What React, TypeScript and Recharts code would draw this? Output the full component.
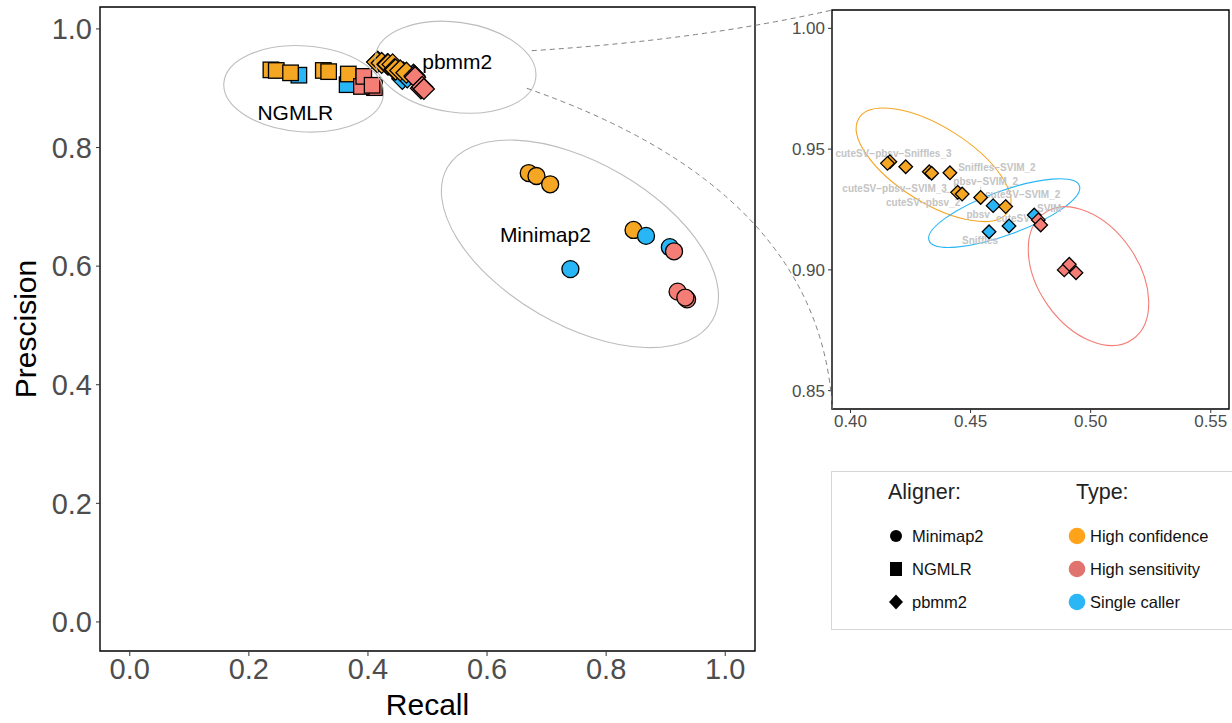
import React from 'react';
import { ScatterChart, Scatter, XAxis, YAxis, ReferenceDot, ReferenceArea } from 'recharts';

// Recall / Precision per aligner and caller type
const minimap2Confidence = [
  { recall: 0.670, precision: 0.757 },
  { recall: 0.683, precision: 0.752 },
  { recall: 0.706, precision: 0.738 },
  { recall: 0.846, precision: 0.661 },
];
const minimap2Single = [
  { recall: 0.867, precision: 0.651 },
  { recall: 0.907, precision: 0.632 },
  { recall: 0.740, precision: 0.595 },
];
const minimap2Sensitivity = [
  { recall: 0.914, precision: 0.625 },
  { recall: 0.920, precision: 0.557 },
  { recall: 0.936, precision: 0.544 },
  { recall: 0.933, precision: 0.547 },
];

const ngmlrSingle = [
  { recall: 0.284, precision: 0.922 },
  { recall: 0.365, precision: 0.906 },
];
const ngmlrConfidence = [
  { recall: 0.237, precision: 0.931 },
  { recall: 0.246, precision: 0.930 },
  { recall: 0.270, precision: 0.926 },
  { recall: 0.325, precision: 0.930 },
  { recall: 0.334, precision: 0.928 },
  { recall: 0.367, precision: 0.924 },
];
const ngmlrSensitivity = [
  { recall: 0.411, precision: 0.901 },
  { recall: 0.389, precision: 0.903 },
  { recall: 0.393, precision: 0.920 },
  { recall: 0.407, precision: 0.905 },
];

const pbmm2Single = [
  { recall: 0.4594, precision: 0.9266, caller: 'pbsv' },
  { recall: 0.4577, precision: 0.9158, caller: 'Sniffles' },
  { recall: 0.4660, precision: 0.9182, caller: 'cuteSV' },
  { recall: 0.4765, precision: 0.9227, caller: 'SVIM' },
];
const pbmm2Confidence = [
  { recall: 0.4164, precision: 0.9448, caller: '' },
  { recall: 0.4154, precision: 0.9441, caller: 'cuteSV−pbsv−Sniffles_3' },
  { recall: 0.4230, precision: 0.9427, caller: '' },
  { recall: 0.4328, precision: 0.9406, caller: '' },
  { recall: 0.4338, precision: 0.9400, caller: '' },
  { recall: 0.4414, precision: 0.9402, caller: 'Sniffles−SVIM_2' },
  { recall: 0.4446, precision: 0.9321, caller: 'cuteSV−pbsv−SVIM_3' },
  { recall: 0.4465, precision: 0.9314, caller: 'cuteSV−pbsv_2' },
  { recall: 0.4542, precision: 0.9300, caller: 'pbsv−SVIM_2' },
  { recall: 0.4646, precision: 0.9262, caller: 'cuteSV−SVIM_2' },
];
const pbmm2Sensitivity = [
  { recall: 0.4782, precision: 0.9207 },
  { recall: 0.4792, precision: 0.9186 },
  { recall: 0.4890, precision: 0.9000 },
  { recall: 0.4911, precision: 0.9023 },
  { recall: 0.4939, precision: 0.8988 },
];

const mainTicks = [0, 0.2, 0.4, 0.6, 0.8, 1.0];
const zoomXTicks = [0.40, 0.45, 0.50, 0.55];
const zoomYTicks = [0.85, 0.90, 0.95, 1.00];

const alignerGroups = [
  { name: 'Minimap2', x: 0.698, y: 0.653 },
  { name: 'NGMLR', x: 0.278, y: 0.859 },
  { name: 'pbmm2', x: 0.550, y: 0.945 },
];

// ellipse centres (data units); radii/angles are drawing styles in px
const mainEllipses = [
  { x: 0.292, y: 0.899, rx: 80, ry: 43, angle: 4 },
  { x: 0.547, y: 0.9355, rx: 81, ry: 45, angle: 8 },
  { x: 0.756, y: 0.6376, rx: 153, ry: 81, angle: 30 },
];
const zoomEllipses = [
  { x: 0.4346, y: 0.9435, rx: 88, ry: 38, angle: 32, color: '#F5A623' },
  { x: 0.4640, y: 0.9235, rx: 80, ry: 22, angle: -20, color: '#29B6F6' },
  { x: 0.4991, y: 0.8974, rx: 77, ry: 50, angle: 55, color: '#F47E75' },
];

const labelOffsets: Record<string, [number, number]> = {
  'cuteSV−pbsv−Sniffles_3': [6, -10],
  'Sniffles−SVIM_2': [47, -5],
  'pbsv−SVIM_2': [5, -15.5],
  'cuteSV−pbsv−SVIM_3': [-63, -3.6],
  'cuteSV−SVIM_2': [17, -12.4],
  'cuteSV−pbsv_2': [-39, 8.3],
  SVIM: [15, -6.7],
  pbsv: [-15, 9.3],
  cuteSV: [4, -7.7],
  Sniffles: [-9, 8.3],
};

const ORANGE = '#F5A623';
const RED = '#F47E75';
const BLUE = '#29B6F6';
const FONT = '"Liberation Sans", Arial, Helvetica, sans-serif';

const mainX: [number, number] = [-0.05, 1.05];
const mainY: [number, number] = [-0.049, 1.037];
const zoomX: [number, number] = [0.3923, 0.5576];
const zoomY: [number, number] = [0.8424, 1.0076];

const circle = (fill: string, r: number) => (p: any) => (
  <circle cx={p.cx} cy={p.cy} r={r} fill={fill} stroke="#000" strokeWidth={1.3} />
);
const square = (fill: string, s: number) => (p: any) => (
  <rect x={p.cx - s / 2} y={p.cy - s / 2} width={s} height={s} fill={fill} stroke="#000" strokeWidth={1.3} />
);
const diamond = (fill: string, h: number) => (p: any) => (
  <path
    d={`M${p.cx},${p.cy - h}L${p.cx + h},${p.cy}L${p.cx},${p.cy + h}L${p.cx - h},${p.cy}Z`}
    fill={fill}
    stroke="#000"
    strokeWidth={1.3}
  />
);

const ellipseShape = (e: any, color: string) => (p: any) => (
  <ellipse
    cx={p.cx}
    cy={p.cy}
    rx={e.rx}
    ry={e.ry}
    fill="none"
    stroke={color}
    strokeWidth={1.1}
    transform={`rotate(${e.angle} ${p.cx} ${p.cy})`}
  />
);

const labelShape = (p: any) => {
  const name = p.payload?.caller;
  const off = name ? labelOffsets[name] : null;
  if (!off) return <g />;
  const tx = p.cx + off[0];
  const ty = p.cy + off[1];
  const w = name.length * 5.4;
  const h = 9;
  const nx = Math.max(tx - w / 2, Math.min(p.cx, tx + w / 2));
  const ny = Math.max(ty - h / 2, Math.min(p.cy, ty + h / 2));
  const d = Math.hypot(nx - p.cx, ny - p.cy);
  return (
    <g>
      {d > 7 && <line x1={p.cx} y1={p.cy} x2={nx} y2={ny} stroke="#c4c4c4" strokeWidth={0.8} />}
      <text x={tx} y={ty} textAnchor="middle" dominantBaseline="central" fontSize={10} fontWeight="bold" fill="#c4c4c4">
        {name}
      </text>
    </g>
  );
};

const labelled = [...pbmm2Confidence, ...pbmm2Single].filter((d) => d.caller);

function MainPanel() {
  return (
    <ScatterChart width={770} height={723} margin={{ top: 7, right: 15, bottom: 22, left: 10 }}>
      <XAxis
        type="number"
        dataKey="recall"
        domain={mainX}
        allowDataOverflow
        ticks={mainTicks}
        tickFormatter={(v: number) => v.toFixed(1)}
        axisLine={false}
        tickSize={5}
        tickMargin={2}
        tickLine={{ stroke: '#333' }}
        tick={{ fill: '#4d4d4d', fontSize: 29 }}
        height={50}
        label={{ value: 'Recall', position: 'bottom', offset: -7, fill: '#000', fontSize: 30 }}
      />
      <YAxis
        type="number"
        dataKey="precision"
        domain={mainY}
        allowDataOverflow
        ticks={mainTicks}
        tickFormatter={(v: number) => v.toFixed(1)}
        axisLine={false}
        tickSize={4}
        tickMargin={4}
        tickLine={{ stroke: '#333' }}
        tick={{ fill: '#4d4d4d', fontSize: 29 }}
        width={90}
        label={{
          value: 'Prescision',
          angle: -90,
          position: 'insideLeft',
          offset: 15,
          fill: '#000',
          fontSize: 30,
          style: { textAnchor: 'middle' },
        }}
      />
      <ReferenceArea
        x1={mainX[0]}
        x2={mainX[1]}
        y1={mainY[0]}
        y2={mainY[1]}
        fill="none"
        stroke="#000"
        strokeWidth={1.4}
        ifOverflow="visible"
      />
      <Scatter data={minimap2Confidence} shape={circle(ORANGE, 8.5)} isAnimationActive={false} />
      <Scatter data={minimap2Single} shape={circle(BLUE, 8.5)} isAnimationActive={false} />
      <Scatter data={minimap2Sensitivity} shape={circle(RED, 8.5)} isAnimationActive={false} />
      <Scatter data={ngmlrSingle} shape={square(BLUE, 15.5)} isAnimationActive={false} />
      <Scatter data={ngmlrConfidence} shape={square(ORANGE, 15.5)} isAnimationActive={false} />
      <Scatter data={ngmlrSensitivity} shape={square(RED, 15.5)} isAnimationActive={false} />
      <Scatter data={pbmm2Single} shape={diamond(BLUE, 10.5)} isAnimationActive={false} />
      <Scatter data={pbmm2Confidence} shape={diamond(ORANGE, 10.5)} isAnimationActive={false} />
      <Scatter data={pbmm2Sensitivity} shape={diamond(RED, 10.5)} isAnimationActive={false} />
      {mainEllipses.map((e, i) => (
        <ReferenceDot key={i} x={e.x} y={e.y} r={0} ifOverflow="visible" shape={ellipseShape(e, '#bdbdbd')} />
      ))}
      {alignerGroups.map((g) => (
        <ReferenceDot
          key={g.name}
          x={g.x}
          y={g.y}
          r={0}
          ifOverflow="visible"
          shape={(p: any) => (
            <text x={p.cx} y={p.cy} textAnchor="middle" dominantBaseline="central" fontSize={21} fill="#000">
              {g.name}
            </text>
          )}
        />
      ))}
    </ScatterChart>
  );
}

function ZoomPanel() {
  return (
    <ScatterChart width={452} height={440} margin={{ top: 10, right: 3, bottom: 0, left: 0 }}>
      <XAxis
        type="number"
        dataKey="recall"
        domain={zoomX}
        allowDataOverflow
        ticks={zoomXTicks}
        tickFormatter={(v: number) => v.toFixed(2)}
        axisLine={false}
        tickSize={4}
        tickMargin={2}
        tickLine={{ stroke: '#333' }}
        tick={{ fill: '#4d4d4d', fontSize: 17 }}
        height={31}
      />
      <YAxis
        type="number"
        dataKey="precision"
        domain={zoomY}
        allowDataOverflow
        ticks={zoomYTicks}
        tickFormatter={(v: number) => v.toFixed(2)}
        axisLine={false}
        tickSize={4}
        tickMargin={3}
        tickLine={{ stroke: '#333' }}
        tick={{ fill: '#4d4d4d', fontSize: 17 }}
        width={52}
      />
      <ReferenceArea
        x1={zoomX[0]}
        x2={zoomX[1]}
        y1={zoomY[0]}
        y2={zoomY[1]}
        fill="none"
        stroke="#000"
        strokeWidth={1.4}
        ifOverflow="visible"
      />
      {zoomEllipses.map((e, i) => (
        <ReferenceDot key={i} x={e.x} y={e.y} r={0} ifOverflow="visible" shape={ellipseShape(e, e.color)} />
      ))}
      <Scatter data={labelled} shape={labelShape} isAnimationActive={false} />
      <Scatter data={pbmm2Single} shape={diamond(BLUE, 6.8)} isAnimationActive={false} />
      <Scatter data={pbmm2Confidence} shape={diamond(ORANGE, 6.8)} isAnimationActive={false} />
      <Scatter data={pbmm2Sensitivity} shape={diamond(RED, 6.8)} isAnimationActive={false} />
    </ScatterChart>
  );
}

function LegendBox() {
  const row = {
    position: 'absolute' as const,
    fontSize: 16.5,
    color: '#111',
    lineHeight: '20px',
    whiteSpace: 'nowrap' as const,
  };
  const aligners = [
    { name: 'Minimap2', top: 526, icon: <circle cx={8} cy={8} r={6} fill="#000" /> },
    { name: 'NGMLR', top: 559, icon: <rect x={2} y={1} width={12} height={14} fill="#000" /> },
    { name: 'pbmm2', top: 592, icon: <path d="M8,0.5L15,8L8,15.5L1,8Z" fill="#000" /> },
  ];
  const types = [
    { name: 'High confidence', top: 526, color: '#FFA31A' },
    { name: 'High sensitivity', top: 559, color: '#E0736E' },
    { name: 'Single caller', top: 592, color: '#2BB6F6' },
  ];
  return (
    <div style={{ position: 'absolute', left: 0, top: 0, width: 1232, height: 723 }}>
      <div
        style={{
          position: 'absolute',
          left: 831,
          top: 471,
          width: 410,
          height: 157,
          border: '1px solid #d6d6d6',
        }}
      />
      <div style={{ ...row, left: 888, top: 482, fontSize: 21.5, color: '#222' }}>Aligner:</div>
      <div style={{ ...row, left: 1076, top: 482, fontSize: 21.5, color: '#222' }}>Type:</div>
      {aligners.map((a) => (
        <React.Fragment key={a.name}>
          <svg style={{ position: 'absolute', left: 888, top: a.top + 2 }} width={16} height={16}>
            {a.icon}
          </svg>
          <div style={{ ...row, left: 912, top: a.top }}>{a.name}</div>
        </React.Fragment>
      ))}
      {types.map((t) => (
        <React.Fragment key={t.name}>
          <svg style={{ position: 'absolute', left: 1068, top: t.top + 1 }} width={18} height={18}>
            <circle cx={9} cy={9} r={8.3} fill={t.color} />
          </svg>
          <div style={{ ...row, left: 1090, top: t.top }}>{t.name}</div>
        </React.Fragment>
      ))}
    </div>
  );
}

export default function App() {
  return (
    <div
      style={{
        position: 'absolute',
        left: 0,
        top: 0,
        width: 1232,
        height: 723,
        background: '#fff',
        overflow: 'hidden',
        fontFamily: FONT,
      }}
    >
      <div style={{ position: 'absolute', left: 0, top: 0 }}>
        <MainPanel />
      </div>
      <div style={{ position: 'absolute', left: 780, top: 0 }}>
        <ZoomPanel />
      </div>
      <svg style={{ position: 'absolute', left: 0, top: 0, pointerEvents: 'none' }} width={1232} height={723}>
        <path d="M531.7,50.7 Q700,40 832.3,10" fill="none" stroke="#808080" strokeWidth={1} strokeDasharray="5 4" />
        <path d="M526.7,88.3 Q820,190 832.3,409" fill="none" stroke="#808080" strokeWidth={1} strokeDasharray="5 4" />
      </svg>
      <LegendBox />
    </div>
  );
}
